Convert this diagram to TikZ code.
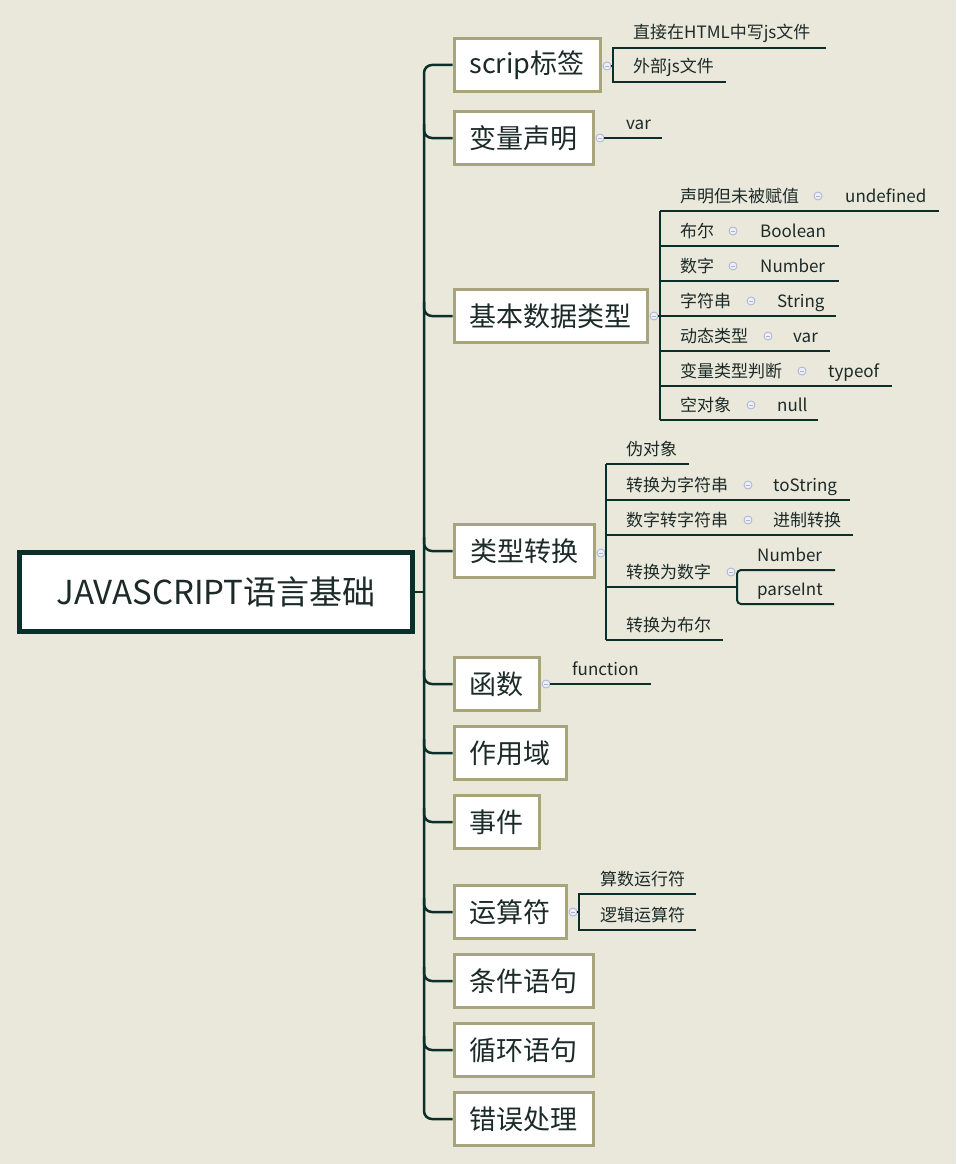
\documentclass[tikz,border=0pt]{standalone}
\usepackage{fontspec}
\setmainfont{Noto Sans CJK SC}
\definecolor{bg}{HTML}{EAE7DB}
\definecolor{ln}{HTML}{0B302B}
\definecolor{bx}{HTML}{A8A47C}
\definecolor{tx}{HTML}{1C2B28}
\definecolor{cb}{HTML}{A9B2D4}
\definecolor{cf}{HTML}{EEF0F6}
\begin{document}
\begin{tikzpicture}[x=1pt,y=-1pt,
 topic/.style={draw=bx, line width=3pt, fill=white, anchor=west, minimum height=53pt, inner sep=0pt, font=\fontsize{27}{27}\selectfont, text=tx},
 rootbox/.style={draw=ln, line width=5pt, fill=white, minimum width=393pt, minimum height=79pt, inner sep=0pt, font=\fontsize{33}{33}\selectfont, text=tx},
 lab/.style={anchor=base west, inner sep=0pt, font=\fontsize{17}{17}\selectfont, text=tx},
 spine/.style={draw=ln, line width=2.5pt, rounded corners=8pt},
 sub/.style={draw=ln, line width=2pt},
 btn/.style={circle, draw=cb, fill=cf, line width=0.8pt, minimum size=8pt, inner sep=0pt,
   path picture={\draw[cb, line width=0.8pt] ([xshift=-2pt]path picture bounding box.center) -- ([xshift=2pt]path picture bounding box.center);}},
]
\fill[bg] (0,0) rectangle (956,1164);
\useasboundingbox (0,0) rectangle (956,1164);

% root
\node[rootbox] (root) at (216,592) {JAVASCRIPT语言基础};

% topics
\node[topic, minimum width=146pt] (t1) at (452.5,65) {scrip标签};
\node[topic, minimum width=139pt] (t2) at (452.5,138) {变量声明};
\node[topic, minimum width=193pt] (t3) at (452.5,316) {基本数据类型};
\node[topic, minimum width=140pt] (t4) at (452.5,551) {类型转换};
\node[topic, minimum width=85pt] (t5) at (452.5,684) {函数};
\node[topic, minimum width=112pt] (t6) at (452.5,753) {作用域};
\node[topic, minimum width=85pt] (t7) at (452.5,822) {事件};
\node[topic, minimum width=112pt] (t8) at (452.5,912) {运算符};
\node[topic, minimum width=139pt] (t9) at (452.5,981) {条件语句};
\node[topic, minimum width=139pt] (t10) at (452.5,1050) {循环语句};
\node[topic, minimum width=139pt] (t11) at (452.5,1119) {错误处理};

% spine
\coordinate (sp) at (424,592);
\draw[sub, line width=2.5pt] (root.east) -- (sp);
\draw[spine] (t1.west) -- (424,65) -- (424,1119) -- (t11.west);
\foreach \t/\y in {t2/138,t3/316,t4/551,t5/684,t6/753,t7/822,t8/912,t9/981,t10/1050}
  \draw[spine] (424,\y-14) -- (424,\y) -- (\t.west);

% scrip children
\node[btn] (c1) at (607,66) {};
\draw[sub] (c1.east) -- (613,66);
\draw[sub] (826,48) -- (613,48) -- (613,82) -- (726,82);
\node[lab] (l11) at (633,39) {直接在HTML中写js文件};
\node[lab] (l12) at (633,73) {外部js文件};

% var
\node[btn] (c2) at (600,138) {};
\draw[sub] (c2.east) -- (662,138);
\node[lab] (l21) at (626,129) {var};

% basic data types
\node[btn] (c3) at (654,316) {};
\draw[sub] (c3.east) -- (660,316);
\draw[sub] (660,211) -- (660,420);
\foreach \y/\a/\cx/\b/\gx/\e in {
  211/声明但未被赋值/818/undefined/845/939,
  246/布尔/733/Boolean/760/839,
  281/数字/733/Number/760/839,
  316/字符串/751/String/777/836,
  351/动态类型/768/var/793/830,
  386/变量类型判断/802/typeof/828/892,
  420/空对象/751/null/777/818}{
  \node[lab] (a\y) at (680,\y-9) {\a};
  \node[btn] (g\y) at (\cx,\y-15) {};
  \node[lab] (b\y) at (\gx,\y-9) {\b};
  \draw[sub] (660,\y) -- (\e,\y);
}

% type conversion
\node[btn] (c4) at (601,553) {};
\draw[sub] (c4.east) -- (606,553);
\draw[sub] (606,464) -- (606,640);
\draw[sub] (606,464) -- (689,464);
\node[lab] (d1) at (626,455) {伪对象};
\draw[sub] (606,500) -- (850,500);
\node[lab] (d2) at (626,491) {转换为字符串};
\node[btn] (e2) at (748,485) {};
\node[lab] (f2) at (773,491) {toString};
\draw[sub] (606,535) -- (853,535);
\node[lab] (d3) at (626,526) {数字转字符串};
\node[btn] (e3) at (748,520) {};
\node[lab] (f3) at (773,526) {进制转换};
\draw[sub] (606,587) -- (737,587);
\node[lab] (d4) at (626,578) {转换为数字};
\node[btn] (e4) at (731,572) {};
\draw[sub, rounded corners=4pt] (835,570) -- (737,570) -- (737,604) -- (834,604);
\node[lab] (f41) at (757,561) {Number};
\node[lab] (f42) at (757,595) {parseInt};
\draw[sub] (606,640) -- (723,640);
\node[lab] (d5) at (626,631) {转换为布尔};

% function
\node[btn] (c5) at (546,684) {};
\draw[sub] (c5.east) -- (651,684);
\node[lab] (l51) at (572,675) {function};

% operators
\node[btn] (c8) at (573,912) {};
\draw[sub] (c8.east) -- (579,912);
\draw[sub] (696,894) -- (579,894) -- (579,930) -- (696,930);
\node[lab] (l81) at (600,885) {算数运行符};
\node[lab] (l82) at (600,921) {逻辑运算符};
\end{tikzpicture}
\end{document}
